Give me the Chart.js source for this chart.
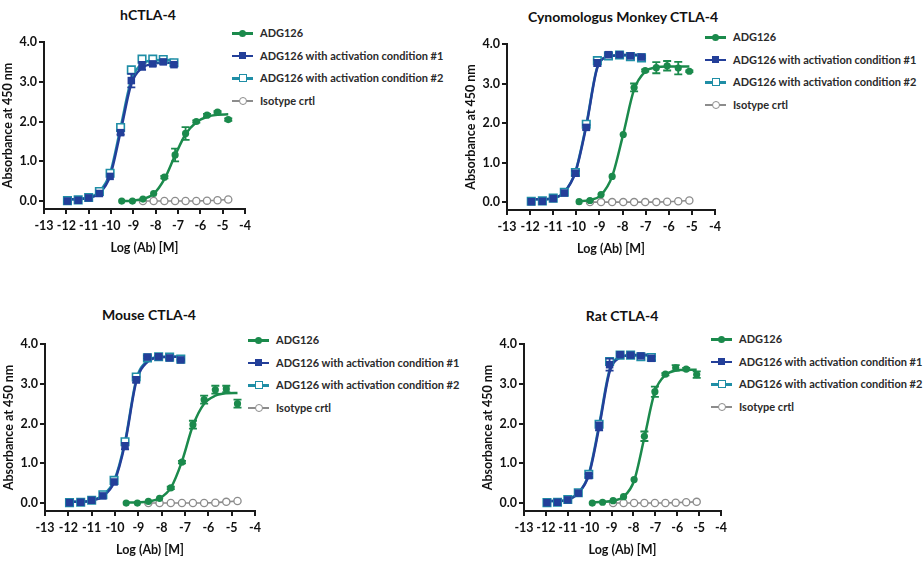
<!DOCTYPE html>
<html>
<head>
<meta charset="utf-8">
<script src="https://cdn.jsdelivr.net/npm/chart.js@4.4.1/dist/chart.umd.min.js"></script>
<style>
  body { margin: 0; background: #fff; font-family: Lato, "Open Sans", sans-serif; }
  #page { position: relative; width: 924px; height: 561px; overflow: hidden; }
  .box { position: absolute; }
  .title { position: absolute; font-weight: bold; font-size: 14px; line-height: 18px; color: #111; transform: translateX(-50%); white-space: nowrap; }
  .leg { position: absolute; font-weight: bold; font-size: 11px; line-height: 14px; color: #2a2a2a; white-space: nowrap; }
  .leg .ln { position: absolute; left: 0; top: 6px; width: 21px; height: 2.5px; }
  .leg .mk { position: absolute; box-sizing: border-box; }
  .leg .txt { position: absolute; left: 28px; top: 0; }
</style>
</head>
<body>
<div id="page"></div>
<script>
// axis ticks
const xTicks = [-13, -12, -11, -10, -9, -8, -7, -6, -5, -4];
const yTicks = [0, 1, 2, 3, 4];

const seriesNames = ['ADG126', 'ADG126 with activation condition #1', 'ADG126 with activation condition #2', 'Isotype crtl'];
const panelTitles = ['hCTLA-4', 'Cynomologus Monkey CTLA-4', 'Mouse CTLA-4', 'Rat CTLA-4'];

// concentrations, log M
const xActivated = [-11.95, -11.47, -11.0, -10.52, -10.04, -9.57, -9.09, -8.61, -8.13, -7.66, -7.18];
const xParentA = [-9.52, -9.04, -8.57, -8.09, -7.61, -7.13, -6.66, -6.18, -5.70, -5.23, -4.75];
const xParentB = [-9.88, -9.41, -8.93, -8.45, -7.97, -7.50, -7.02, -6.54, -6.07, -5.59, -5.11];
const xIsoA = [-8.57, -8.09, -7.61, -7.13, -6.66, -6.18, -5.70, -5.23, -4.75];
const xIsoCyno = [-9.41, -8.93, -8.45, -7.97, -7.50, -7.02, -6.54, -6.07, -5.59, -5.11];
const xIsoRat = [-8.93, -8.45, -7.97, -7.50, -7.02, -6.54, -6.07, -5.59, -5.11];

// hCTLA-4
const hAdg      = [0.00, 0.00, 0.05, 0.19, 0.60, 1.16, 1.70, 2.00, 2.16, 2.24, 2.05];
const hAdgErr   = [0, 0, 0, 0, 0.03, 0.16, 0.16, 0.03, 0.03, 0.02, 0.03];
const hAdgFit   = [0.00, 0.01, 0.05, 0.18, 0.55, 1.15, 1.68, 1.98, 2.12, 2.17, 2.18];
const hAct1     = [0.00, 0.02, 0.08, 0.19, 0.62, 1.72, 3.03, 3.40, 3.45, 3.50, 3.43];
const hAct1Err  = [0, 0, 0, 0, 0, 0.05, 0.17, 0.10, 0.05, 0.05, 0.04];
const hAct1Fit  = [0.04, 0.05, 0.08, 0.20, 0.63, 1.75, 2.95, 3.35, 3.45, 3.48, 3.48];
const hAct2     = [0.01, 0.03, 0.09, 0.24, 0.70, 1.85, 3.30, 3.57, 3.57, 3.56, 3.48];
const hAct2Fit  = [0.04, 0.05, 0.09, 0.24, 0.70, 1.85, 3.05, 3.45, 3.54, 3.55, 3.55];
const hIso      = [0.00, 0.00, 0.00, 0.00, 0.00, 0.00, 0.01, 0.02, 0.04];

// Cynomologus monkey
const cAdg      = [0.01, 0.04, 0.19, 0.65, 1.71, 2.90, 3.33, 3.40, 3.45, 3.39, 3.31];
const cAdgErr   = [0, 0, 0, 0, 0, 0.10, 0.03, 0.14, 0.12, 0.16, 0.02];
const cAdgFit   = [0.02, 0.05, 0.18, 0.65, 1.72, 2.85, 3.30, 3.41, 3.43, 3.43, 3.43];
const cAct1     = [0.01, 0.02, 0.09, 0.23, 0.73, 1.89, 3.52, 3.73, 3.73, 3.70, 3.67];
const cAct1Err  = [0, 0, 0, 0, 0.06, 0.06, 0.08, 0.03, 0.03, 0.03, 0.03];
const cAct1Fit  = [0.07, 0.07, 0.10, 0.25, 0.75, 1.92, 3.40, 3.68, 3.72, 3.73, 3.73];
const cAct2     = [0.02, 0.03, 0.10, 0.25, 0.75, 1.97, 3.58, 3.70, 3.72, 3.68, 3.65];
const cAct2Fit  = [0.07, 0.07, 0.10, 0.25, 0.77, 1.96, 3.42, 3.68, 3.71, 3.71, 3.71];
const cIso      = [0.00, 0.00, 0.00, 0.00, 0.00, 0.00, 0.00, 0.01, 0.02, 0.04];

// Mouse
const mAdg      = [0.00, 0.00, 0.04, 0.12, 0.38, 1.03, 1.97, 2.60, 2.85, 2.87, 2.50];
const mAdgErr   = [0, 0, 0, 0, 0.03, 0.03, 0.10, 0.10, 0.10, 0.08, 0.10];
const mAdgFit   = [0.01, 0.02, 0.04, 0.12, 0.38, 1.05, 1.95, 2.50, 2.70, 2.76, 2.77];
const mAct1     = [0.01, 0.02, 0.07, 0.18, 0.53, 1.43, 3.10, 3.67, 3.68, 3.65, 3.60];
const mAct1Err  = [0, 0, 0, 0, 0, 0.08, 0.07, 0.03, 0.02, 0.02, 0.02];
const mAct1Fit  = [0.03, 0.03, 0.06, 0.17, 0.52, 1.50, 3.05, 3.55, 3.66, 3.68, 3.68];
const mAct2     = [0.01, 0.02, 0.07, 0.21, 0.57, 1.54, 3.17, 3.65, 3.68, 3.67, 3.62];
const mAct2Fit  = [0.03, 0.03, 0.07, 0.20, 0.56, 1.55, 3.10, 3.58, 3.67, 3.68, 3.68];
const mIso      = [0.00, 0.00, 0.00, 0.00, 0.00, 0.00, 0.01, 0.03, 0.05];

// Rat
const rAdg      = [0.00, 0.02, 0.06, 0.16, 0.59, 1.68, 2.80, 3.24, 3.40, 3.37, 3.23];
const rAdgErr   = [0, 0, 0, 0, 0, 0.12, 0.13, 0.03, 0.07, 0.03, 0.08];
const rAdgFit   = [0.02, 0.03, 0.06, 0.16, 0.56, 1.65, 2.80, 3.22, 3.33, 3.35, 3.35];
const rAct1     = [0.01, 0.02, 0.08, 0.25, 0.69, 1.93, 3.48, 3.73, 3.72, 3.70, 3.64];
const rAct1Err  = [0, 0, 0, 0, 0.04, 0.10, 0.15, 0.03, 0.03, 0.03, 0.05];
const rAct1Fit  = [0.05, 0.05, 0.08, 0.25, 0.70, 1.90, 3.30, 3.66, 3.72, 3.73, 3.73];
const rAct2     = [0.01, 0.02, 0.09, 0.26, 0.72, 1.98, 3.56, 3.72, 3.72, 3.68, 3.66];
const rAct2Fit  = [0.05, 0.05, 0.09, 0.26, 0.73, 1.96, 3.35, 3.67, 3.71, 3.71, 3.71];
const rIso      = [0.00, 0.00, 0.00, 0.00, 0.00, 0.00, 0.01, 0.02, 0.03];

const GREEN = '#1b8a4c', BLUE = '#233f99', CYAN = '#1f8ea6', GRAY = '#8c8c8c';
const FONT = 'Lato, "Open Sans", sans-serif';

// where each panel sits on the page (plot area in px)
const panels = [
  { title: panelTitles[0], left: 44, top: 42, right: 245, bottom: 209, titleX: 148, titleY: 15, legX: 232, legY: 33,
    xAdg: xParentA, adg: hAdg, adgErr: hAdgErr, adgFit: hAdgFit, act1: hAct1, act1Err: hAct1Err, act1Fit: hAct1Fit,
    act2: hAct2, act2Fit: hAct2Fit, xIso: xIsoA, iso: hIso },
  { title: panelTitles[1], left: 507, top: 44, right: 715, bottom: 210, titleX: 623, titleY: 17, legX: 705, legY: 37,
    xAdg: xParentB, adg: cAdg, adgErr: cAdgErr, adgFit: cAdgFit, act1: cAct1, act1Err: cAct1Err, act1Fit: cAct1Fit,
    act2: cAct2, act2Fit: cAct2Fit, xIso: xIsoCyno, iso: cIso },
  { title: panelTitles[2], left: 45, top: 344, right: 255, bottom: 511, titleX: 149, titleY: 315, legX: 248, legY: 340,
    xAdg: xParentA, adg: mAdg, adgErr: mAdgErr, adgFit: mAdgFit, act1: mAct1, act1Err: mAct1Err, act1Fit: mAct1Fit,
    act2: mAct2, act2Fit: mAct2Fit, xIso: xIsoA, iso: mIso },
  { title: panelTitles[3], left: 524, top: 344, right: 721, bottom: 511, titleX: 622, titleY: 316, legX: 711, legY: 339,
    xAdg: xParentB, adg: rAdg, adgErr: rAdgErr, adgFit: rAdgFit, act1: rAct1, act1Err: rAct1Err, act1Fit: rAct1Fit,
    act2: rAct2, act2Fit: rAct2Fit, xIso: xIsoRat, iso: rIso }
];

const legendStyles = [
  { color: GREEN, shape: 'circle', open: false, size: 7 },
  { color: BLUE, shape: 'square', open: false, size: 7 },
  { color: CYAN, shape: 'square', open: true, size: 8 },
  { color: GRAY, shape: 'circle', open: true, size: 8 }
];

// vertical error bars with caps
const errorBars = {
  id: 'errorBars',
  afterDatasetsDraw(chart) {
    const ctx = chart.ctx, xs = chart.scales.x, ys = chart.scales.y;
    chart.data.datasets.forEach(ds => {
      if (!ds.errors) return;
      ctx.save();
      ctx.strokeStyle = ds.borderColor;
      ctx.lineWidth = 1.8;
      ds.data.forEach((p, j) => {
        const e = ds.errors[j];
        if (!e) return;
        const px = xs.getPixelForValue(p.x);
        const top = ys.getPixelForValue(p.y + e);
        const bot = ys.getPixelForValue(p.y - e);
        ctx.beginPath();
        ctx.moveTo(px, top); ctx.lineTo(px, bot);
        ctx.moveTo(px - 4, top); ctx.lineTo(px + 4, top);
        ctx.moveTo(px - 4, bot); ctx.lineTo(px + 4, bot);
        ctx.stroke();
      });
      ctx.restore();
    });
  }
};

function pts(xs, ys) {
  return xs.map((x, i) => ({ x: x, y: ys[i] }));
}

function fitLine(xs, ys, color, order) {
  return { data: pts(xs, ys), showLine: true, borderColor: color, borderWidth: 2.5, pointRadius: 0,
           cubicInterpolationMode: 'monotone', order: order };
}

const yW = 44, xH = 50, padTop = 10, padRight = 12;
const page = document.getElementById('page');

panels.forEach(p => {
  // title
  const t = document.createElement('div');
  t.className = 'title';
  t.style.left = p.titleX + 'px';
  t.style.top = (p.titleY - 9) + 'px';
  t.textContent = p.title;
  page.appendChild(t);

  // legend: line with marker, then label
  seriesNames.forEach((name, i) => {
    const st = legendStyles[i];
    const item = document.createElement('div');
    item.className = 'leg';
    item.style.left = p.legX + 'px';
    item.style.top = (p.legY + i * 22.6 - 7) + 'px';
    const ln = document.createElement('span');
    ln.className = 'ln';
    ln.style.background = st.color;
    const mk = document.createElement('span');
    mk.className = 'mk';
    mk.style.width = st.size + 'px';
    mk.style.height = st.size + 'px';
    mk.style.left = (10.5 - st.size / 2) + 'px';
    mk.style.top = (7.2 - st.size / 2) + 'px';
    mk.style.borderRadius = st.shape === 'circle' ? '50%' : '0';
    mk.style.background = st.open ? '#fff' : st.color;
    mk.style.border = (st.open ? 1.5 : 0) + 'px solid ' + st.color;
    const txt = document.createElement('span');
    txt.className = 'txt';
    txt.textContent = name;
    item.appendChild(ln); item.appendChild(mk); item.appendChild(txt);
    page.appendChild(item);
  });

  // chart
  const box = document.createElement('div');
  box.className = 'box';
  const w = yW + (p.right - p.left) + padRight;
  const h = padTop + (p.bottom - p.top) + xH;
  box.style.left = (p.left - yW) + 'px';
  box.style.top = (p.top - padTop) + 'px';
  const cv = document.createElement('canvas');
  cv.width = w; cv.height = h;
  box.appendChild(cv);
  page.appendChild(box);

  new Chart(cv, {
    type: 'scatter',
    data: {
      datasets: [
        { data: pts(p.xIso, p.iso), showLine: true, borderColor: GRAY, borderWidth: 1.6, pointStyle: 'circle',
          pointRadius: 3.6, pointBackgroundColor: '#fff', pointBorderColor: GRAY, pointBorderWidth: 1.3, order: 10 },
        fitLine(p.xAdg, p.adgFit, GREEN, 9),
        { data: pts(p.xAdg, p.adg), errors: p.adgErr, borderColor: GREEN, backgroundColor: GREEN, pointStyle: 'circle',
          pointRadius: 3.6, pointBorderWidth: 0, order: 8 },
        fitLine(xActivated, p.act2Fit, CYAN, 7),
        fitLine(xActivated, p.act1Fit, BLUE, 6),
        { data: pts(xActivated, p.act2), borderColor: CYAN, backgroundColor: '#fff', pointStyle: 'rect',
          pointRadius: 5.3, pointBorderWidth: 1.6, order: 5 },
        { data: pts(xActivated, p.act1), errors: p.act1Err, borderColor: BLUE, backgroundColor: BLUE, pointStyle: 'rect',
          pointRadius: 5.3, pointBorderWidth: 0, order: 4 }
      ]
    },
    options: {
      responsive: false,
      animation: false,
      layout: { padding: { top: padTop, right: padRight, left: 0, bottom: 0 } },
      plugins: { legend: { display: false }, tooltip: { enabled: false } },
      scales: {
        x: {
          type: 'linear', min: -13, max: -4,
          afterBuildTicks: s => { s.ticks = xTicks.map(v => ({ value: v })); },
          afterFit: s => { s.height = xH; },
          grid: { drawOnChartArea: false, drawTicks: true, tickLength: 5, color: '#1a1a1a', lineWidth: 2 },
          border: { color: '#1a1a1a', width: 2 },
          ticks: { color: '#111', padding: 4, maxRotation: 0, autoSkip: false,
                   font: { family: FONT, size: 12.5, weight: 'bold' }, callback: v => String(v) },
          title: { display: true, text: 'Log (Ab) [M]', color: '#111', padding: { top: 2, bottom: 4 },
                   font: { family: FONT, size: 12.5, weight: 'bold' } }
        },
        y: {
          type: 'linear', min: -0.2, max: 4,
          afterBuildTicks: s => { s.ticks = yTicks.map(v => ({ value: v })); },
          afterFit: s => { s.width = yW; },
          grid: { drawOnChartArea: false, drawTicks: true, tickLength: 5, color: '#1a1a1a', lineWidth: 2 },
          border: { color: '#1a1a1a', width: 2 },
          ticks: { color: '#111', padding: 2, autoSkip: false,
                   font: { family: FONT, size: 12.5, weight: 'bold' }, callback: v => v.toFixed(1) },
          title: { display: true, text: 'Absorbance at 450 nm', color: '#111', padding: { top: 0, bottom: 2 },
                   font: { family: FONT, size: 12.5, weight: 'bold' } }
        }
      }
    },
    plugins: [errorBars]
  });
});
</script>
</body>
</html>
